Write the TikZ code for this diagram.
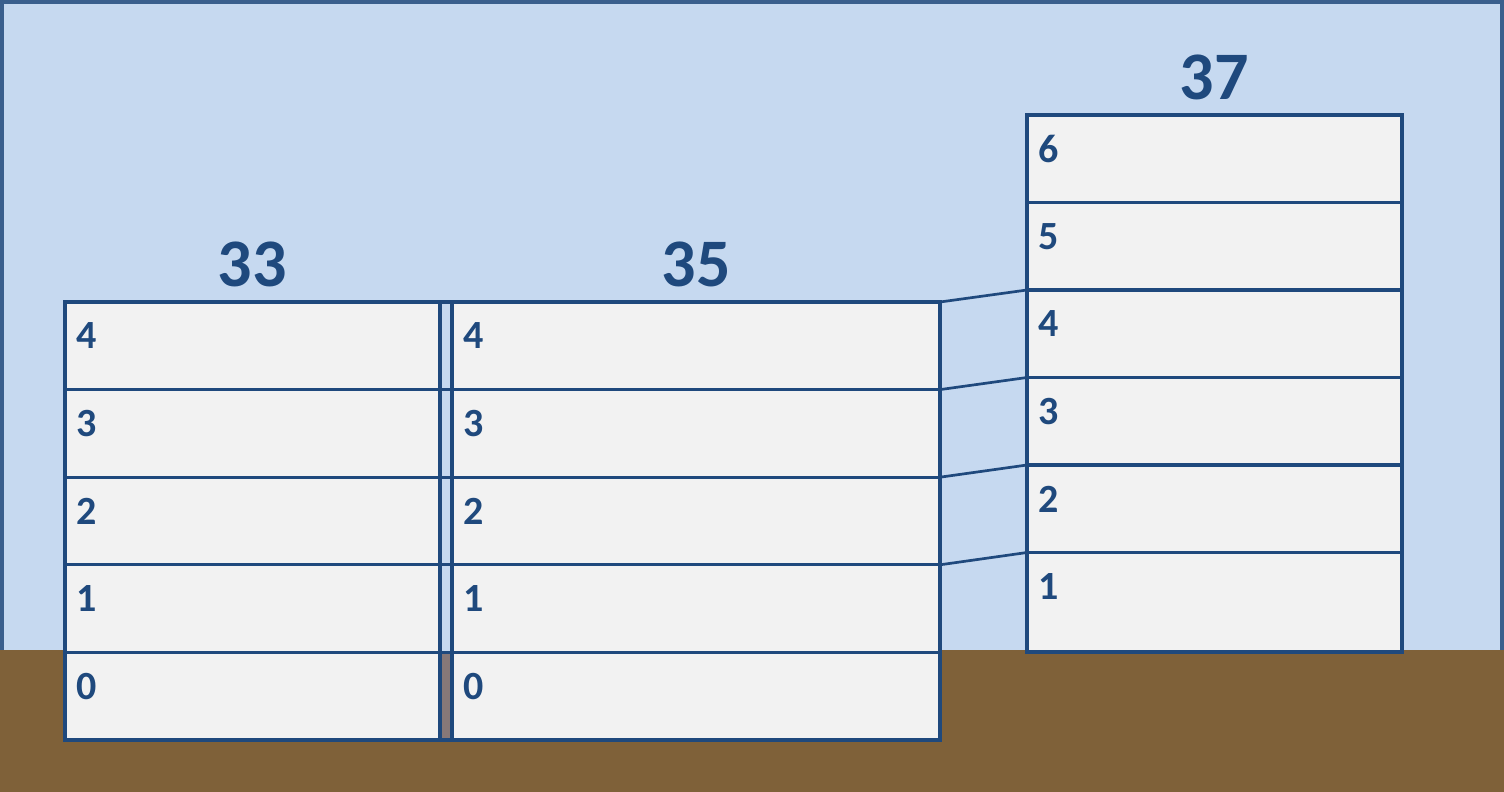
\documentclass[tikz,border=0pt]{standalone}
\usepackage{fontspec}
\setmainfont{Carlito}
\definecolor{sky}{HTML}{C6D9F0}
\definecolor{frame}{HTML}{3A5F8D}
\definecolor{ground}{HTML}{7F6139}
\definecolor{cellfill}{HTML}{F2F2F2}
\definecolor{ink}{HTML}{1F497D}
\definecolor{gapgrey}{HTML}{877878}
\tikzset{
  cell/.style={draw=ink, line width=3.3pt, fill=cellfill, anchor=north west, inner sep=0pt, outer sep=0pt},
  gapcell/.style={cell, fill=sky, minimum width=12pt, minimum height=87.6pt},
  rowlbl/.style={text=ink, font=\fontsize{40}{42}\selectfont\bfseries, inner sep=0pt, anchor=west},
  title/.style={text=ink, font=\fontsize{68}{70}\selectfont\bfseries, inner sep=0pt},
  conn/.style={draw=ink, line width=2.7pt},
}
\begin{document}
\begin{tikzpicture}[x=1pt,y=-1pt]
\useasboundingbox (0,0) rectangle (1504,792);
% sky with border
\fill[frame] (0,0) rectangle (1504,792);
\fill[sky] (4,4) rectangle (1500,792);
% ground
\fill[ground] (0,650) rectangle (1504,792);
% buildings 33 and 35 with the gap between them
\foreach \n [count=\i from 0] in {4,3,2,1,0} {
  \node[cell, minimum width=375pt, minimum height=87.6pt] (a\n) at (65,302+87.6*\i) {};
  \node[rowlbl] at ([xshift=11pt,yshift=-34pt]a\n.north west) {\n};
  \node[gapcell] (g\n) at (440,302+87.6*\i) {};
  \node[cell, minimum width=488pt, minimum height=87.6pt] (b\n) at (452,302+87.6*\i) {};
  \node[rowlbl] at ([xshift=11pt,yshift=-34pt]b\n.north west) {\n};
}
\node[gapcell, fill=gapgrey] (g0b) at (440,652.4) {};
% building 37
\foreach \n [count=\i from 0] in {6,5,4,3,2} {
  \node[cell, minimum width=375pt, minimum height=87.5pt] (c\n) at (1027,115+87.5*\i) {};
  \node[rowlbl] at ([xshift=11pt,yshift=-34pt]c\n.north west) {\n};
}
\node[cell, minimum width=375pt, minimum height=99.5pt] (c1) at (1027,552.5) {};
\node[rowlbl] at ([xshift=11pt,yshift=-34pt]c1.north west) {1};
% connectors
\foreach \n in {4,3,2,1} {
  \draw[conn] (b\n.north east) -- (c\n.north west);
}
% titles
\node[title] (t33) at (252,264) {33};
\node[title] (t35) at (696,264) {35};
\node[title] (t37) at (1214,77) {37};
\end{tikzpicture}
\end{document}
